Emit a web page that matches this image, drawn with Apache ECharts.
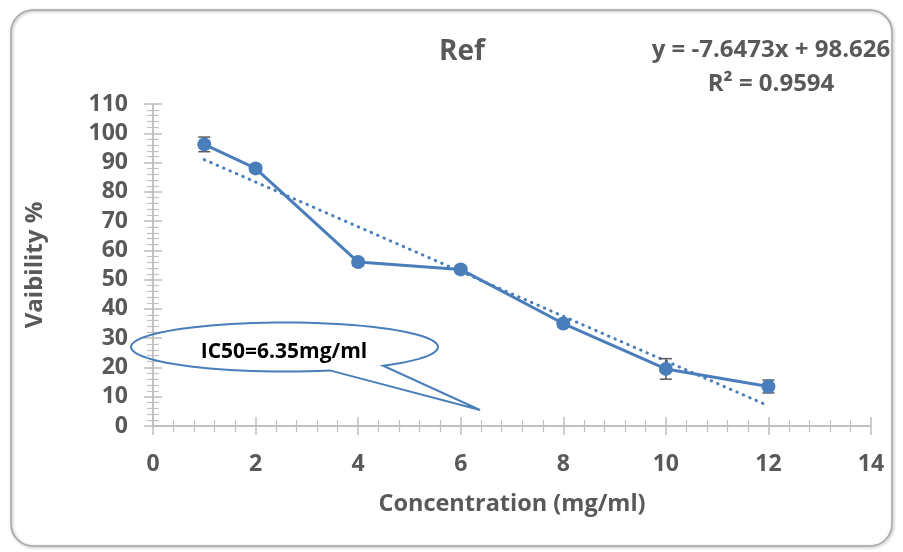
<!DOCTYPE html>
<html>
<head>
<meta charset="utf-8">
<script src="https://cdn.jsdelivr.net/npm/echarts@6/dist/echarts.min.js"></script>
<style>
  html, body { margin: 0; padding: 0; background: #fff; }
  #chart { width: 903px; height: 552px; }
</style>
</head>
<body>
<div id="chart"></div>
<script>
// concentrations (mg/ml) and viability %
const concentrations = [1, 2, 4, 6, 8, 10, 12]
const viability = [96.2, 88.0, 56.0, 53.5, 35.0, 19.5, 13.5]
const errors = [2.5, 1.2, 1.2, 1.2, 1.2, 3.5, 2.2]
// linear trendline end points
const trendX = [1, 12]
const trendY = [91.0, 6.9]

const titleText = 'Ref'
const equationText = 'y = -7.6473x + 98.626'
const r2Text = 'R² = 0.9594'
const calloutText = 'IC50=6.35mg/ml'

const FONT = '"Open Sans", Lato, sans-serif'
const GREY = '#595959'
const BLUE = '#4a7ebb'
const AXIS = '#bfbfbf'

const points = concentrations.map((x, i) => [x, viability[i]])
const errData = concentrations.map((x, i) => [x, viability[i] - errors[i], viability[i] + errors[i]])
const trend = trendX.map((x, i) => [x, trendY[i]])

// speech bubble outline: ellipse with a tail
function bubble (cx, cy, rx, ry, a0, a1, tip) {
  const pts = []
  const n = 80
  for (let i = 0; i <= n; i++) {
    const a = a0 + (a1 - a0) * i / n
    pts.push([cx + rx * Math.cos(a), cy + ry * Math.sin(a)])
  }
  pts.push(tip)
  return pts
}
// angles (screen coords, y down): right base ~ 50deg, left base ~ 73deg going the long way round
const bubblePts = bubble(284.5, 347, 153.5, 24.5, 0.873, 1.271 - 2 * Math.PI, [480, 410])

const chart = echarts.init(document.getElementById('chart'))

const xBase = {
  type: 'value', min: 0, max: 14, interval: 2,
  axisLine: { show: true, lineStyle: { color: AXIS, width: 1.5 } },
  splitLine: { show: false },
  minorTick: { show: true, splitNumber: 5, length: 6, lineStyle: { color: AXIS, width: 1.2 } }
}
const yBase = {
  type: 'value', min: 0, max: 110, interval: 10,
  axisLine: { show: true, lineStyle: { color: AXIS, width: 1.5 } },
  splitLine: { show: false },
  minorTick: { show: true, splitNumber: 5, length: 6, lineStyle: { color: AXIS, width: 1.2 } }
}

chart.setOption({
  animation: false,
  grid: { left: 153, right: 32, top: 104, bottom: 126, containLabel: false },
  xAxis: [
    Object.assign({}, xBase, {
      axisTick: { show: true, inside: false, length: 9, lineStyle: { color: AXIS, width: 1.5 } },
      axisLabel: { margin: 27, color: GREY, fontFamily: FONT, fontWeight: 'bold', fontSize: 23 },
      name: 'Concentration (mg/ml)',
      nameLocation: 'middle',
      nameGap: 66,
      nameTextStyle: { color: GREY, fontFamily: FONT, fontWeight: 'bold', fontSize: 23.5 }
    }),
    Object.assign({}, xBase, {
      position: 'bottom',
      axisTick: { show: true, inside: true, length: 9, lineStyle: { color: AXIS, width: 1.5 } },
      minorTick: { show: true, splitNumber: 5, length: 6, lineStyle: { color: AXIS, width: 1.2 } },
      axisLabel: { show: false }
    })
  ],
  yAxis: [
    Object.assign({}, yBase, {
      axisTick: { show: true, inside: false, length: 9, lineStyle: { color: AXIS, width: 1.5 } },
      axisLabel: { margin: 25, color: GREY, fontFamily: FONT, fontWeight: 'bold', fontSize: 23 },
      name: 'Vaibility %',
      nameLocation: 'middle',
      nameGap: 106,
      nameRotate: 90,
      nameTextStyle: { color: GREY, fontFamily: FONT, fontWeight: 'bold', fontSize: 24 }
    }),
    Object.assign({}, yBase, {
      position: 'left',
      axisTick: { show: true, inside: true, length: 9, lineStyle: { color: AXIS, width: 1.5 } },
      axisLabel: { show: false }
    })
  ],
  series: [
    {
      name: 'trend',
      type: 'line',
      data: trend,
      symbol: 'none',
      lineStyle: { color: BLUE, width: 3, type: [0.5, 6.5], cap: 'round' },
      z: 2
    },
    {
      name: 'error',
      type: 'custom',
      data: errData,
      renderItem: function (params, api) {
        const x = api.value(0)
        const lo = api.coord([x, api.value(1)])
        const hi = api.coord([x, api.value(2)])
        const w = 6
        const style = { stroke: '#595959', lineWidth: 1.5 }
        return {
          type: 'group',
          children: [
            { type: 'line', shape: { x1: lo[0], y1: lo[1], x2: hi[0], y2: hi[1] }, style: style },
            { type: 'line', shape: { x1: lo[0] - w, y1: lo[1], x2: lo[0] + w, y2: lo[1] }, style: style },
            { type: 'line', shape: { x1: hi[0] - w, y1: hi[1], x2: hi[0] + w, y2: hi[1] }, style: style }
          ]
        }
      },
      z: 3
    },
    {
      name: 'Ref',
      type: 'line',
      data: points,
      symbol: 'circle',
      symbolSize: 14,
      itemStyle: { color: BLUE },
      lineStyle: { color: BLUE, width: 3 },
      z: 4
    }
  ],
  graphic: [
    {
      type: 'rect',
      shape: { x: 11, y: 10, width: 881, height: 536, r: 22 },
      style: { fill: 'none', stroke: '#a6a6a6', lineWidth: 1.5, shadowBlur: 3, shadowColor: 'rgba(0,0,0,0.35)', shadowOffsetX: 1, shadowOffsetY: 1 },
      silent: true
    },
    {
      type: 'text', z: 10,
      style: { text: titleText, fill: GREY, font: 'bold 28px ' + FONT, x: 462, y: 52, textAlign: 'center', textVerticalAlign: 'middle' }
    },
    {
      type: 'text', z: 10,
      style: { text: equationText, fill: GREY, font: 'bold 24px ' + FONT, x: 771, y: 50, textAlign: 'center', textVerticalAlign: 'middle' }
    },
    {
      type: 'text', z: 10,
      style: { text: r2Text, fill: GREY, font: 'bold 24px ' + FONT, x: 771, y: 84, textAlign: 'center', textVerticalAlign: 'middle' }
    },
    {
      type: 'polygon', z: 10,
      shape: { points: bubblePts },
      style: { fill: 'none', stroke: BLUE, lineWidth: 2 }
    },
    {
      type: 'text', z: 11,
      style: { text: calloutText, fill: '#000', font: 'bold 21px ' + FONT, x: 284, y: 352, textAlign: 'center', textVerticalAlign: 'middle' }
    }
  ]
})
</script>
</body>
</html>
